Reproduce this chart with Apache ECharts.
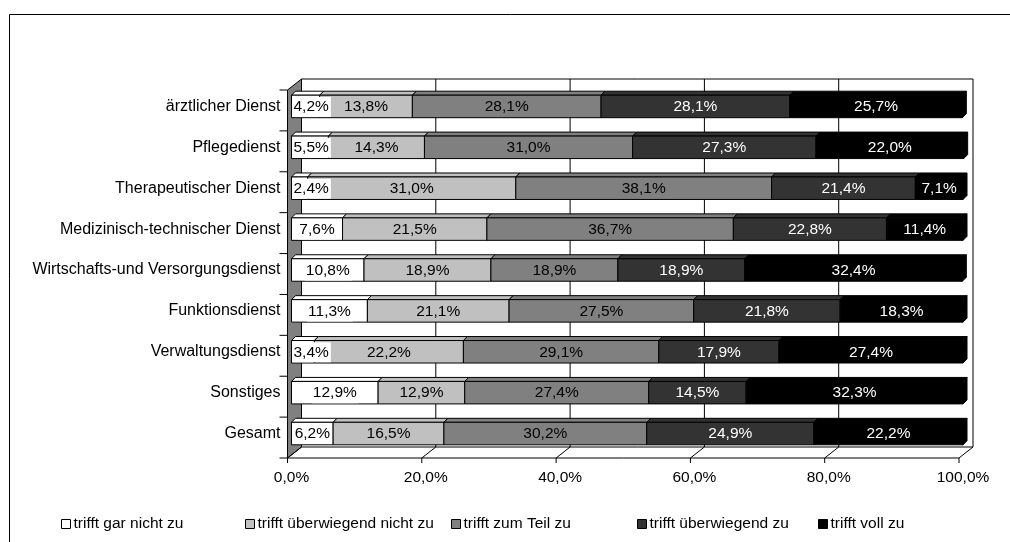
<!DOCTYPE html>
<html>
<head>
<meta charset="utf-8">
<script src="https://cdn.jsdelivr.net/npm/echarts@6/dist/echarts.min.js"></script>
<style>
html,body{margin:0;padding:0;background:#fff;}
#chart{width:1010px;height:542px;}
</style>
</head>
<body>
<div id="chart"></div>
<script>
// ---- data ----
const categories = [
  'ärztlicher Dienst',
  'Pflegedienst',
  'Therapeutischer Dienst',
  'Medizinisch-technischer Dienst',
  'Wirtschafts-und Versorgungsdienst',
  'Funktionsdienst',
  'Verwaltungsdienst',
  'Sonstiges',
  'Gesamt'
];
const seriesNames = [
  'trifft gar nicht zu',
  'trifft überwiegend nicht zu',
  'trifft zum Teil zu',
  'trifft überwiegend zu',
  'trifft voll zu'
];
const garNicht        = [4.2, 5.5, 2.4, 7.6, 10.8, 11.3, 3.4, 12.9, 6.2];
const ueberwNicht     = [13.8, 14.3, 31.0, 21.5, 18.9, 21.1, 22.2, 12.9, 16.5];
const zumTeil         = [28.1, 31.0, 38.1, 36.7, 18.9, 27.5, 29.1, 27.4, 30.2];
const ueberwZu        = [28.1, 27.3, 21.4, 22.8, 18.9, 21.8, 17.9, 14.5, 24.9];
const vollZu          = [25.7, 22.0, 7.1, 11.4, 32.4, 18.3, 27.4, 32.3, 22.2];
const xTickValues     = [0, 20, 40, 60, 80, 100];

const allValues = [garNicht, ueberwNicht, zumTeil, ueberwZu, vollZu];
const colors = ['#ffffff', '#c0c0c0', '#808080', '#333333', '#000000'];
const textColors = ['#000', '#000', '#000', '#fff', '#fff'];
const FONT = '"Liberation Sans", Arial, sans-serif';
const FS = 15.5;
const FS_CAT = 16;

const measureCtx = document.createElement('canvas').getContext('2d');
measureCtx.font = FS + 'px ' + FONT;
function fmt(v) { return v.toFixed(1).replace('.', ',') + '%'; }

// 3D offsets
const BDX = 4, BDY = -4;     // bar depth

function makeRender(si) {
  return function (params, api) {
    const s = api.value(0), e = api.value(1), ci = api.value(2), val = api.value(3);
    const p0 = api.coord([s, ci]);
    const p1 = api.coord([e, ci]);
    const band = api.size([0, 1])[1];
    const h = band * 0.55;
    const x0 = p0[0], x1 = p1[0];
    const yT = p0[1] - h / 2, yB = p0[1] + h / 2;
    const stroke = '#000';
    const children = [];
    children.push({
      type: 'polygon',
      shape: { points: [[x0, yT], [x1, yT], [x1 + BDX, yT + BDY], [x0 + BDX, yT + BDY]] },
      style: { fill: colors[si], stroke: stroke, lineWidth: 1 }
    });
    if (si === allValues.length - 1) {
      children.push({
        type: 'polygon',
        shape: { points: [[x1, yT], [x1 + BDX, yT + BDY], [x1 + BDX, yB + BDY], [x1, yB]] },
        style: { fill: colors[si], stroke: stroke, lineWidth: 1 }
      });
    }
    children.push({
      type: 'rect',
      shape: { x: x0, y: yT, width: x1 - x0, height: h },
      style: { fill: colors[si], stroke: stroke, lineWidth: 1 }
    });
    const txt = fmt(val);
    const tw = measureCtx.measureText(txt).width;
    let tx = (x0 + x1) / 2 - tw / 2;
    if (tx < x0 + 2) tx = x0 + 2;
    const ts = {
      text: txt, x: tx, y: p0[1] + 0.5, align: 'left', verticalAlign: 'middle',
      fill: textColors[si], font: FS + 'px ' + FONT
    };
    if (si === 0) { ts.backgroundColor = '#fff'; ts.padding = [2, 2, 2, 1]; ts.x = tx - 1; }
    children.push({ type: 'text', style: ts, z2: 10 });
    return { type: 'group', children: children };
  };
}

const series = allValues.map((vals, si) => {
  const data = vals.map((v, ci) => {
    let start = 0;
    for (let k = 0; k < si; k++) start += allValues[k][ci];
    return [start, start + v, ci, v];
  });
  return {
    type: 'custom',
    name: seriesNames[si],
    coordinateSystem: 'cartesian2d',
    encode: { x: [0, 1], y: 2 },
    itemStyle: { color: colors[si], borderColor: '#000', borderWidth: 1 },
    renderItem: makeRender(si),
    data: data,
    z: 5
  };
});

const legendLeft = [56, 240, 446, 632, 813];
const legends = seriesNames.map((n, i) => ({
  data: [n],
  left: legendLeft[i],
  top: 511,
  icon: 'rect',
  itemWidth: 9,
  itemHeight: 9,
  itemGap: 0,
  selectedMode: false,
  itemStyle: { borderColor: '#000', borderWidth: 1 },
  textStyle: { fontFamily: FONT, fontSize: FS, color: '#000', padding: [0, 0, 0, -2] }
}));

const chart = echarts.init(document.getElementById('chart'), null, { renderer: 'canvas' });
chart.setOption({
  animation: false,
  backgroundColor: '#fff',
  grid: { left: 291.5, right: 47, top: 86, bottom: 88, containLabel: false },
  xAxis: {
    type: 'value', min: 0, max: 100, interval: 20,
    axisLine: { show: false }, axisTick: { show: false }, splitLine: { show: false },
    axisLabel: {
      margin: 16, color: '#000', fontFamily: FONT, fontSize: FS,
      formatter: v => xTickValues.indexOf(v) >= 0 ? fmt(v) : ''
    }
  },
  yAxis: {
    type: 'category', data: categories, inverse: true,
    axisLine: { show: false }, axisTick: { show: false }, splitLine: { show: false },
    axisLabel: { margin: 11, color: '#000', fontFamily: FONT, fontSize: FS_CAT, padding: [7, 0, 0, 0] }
  },
  legend: legends,
  series: series
});

// ---- walls, floor and grid lines via axis scales ----
const FDX = -4, FDY = 4;    // front plane offset
const WDX = 10, WDY = -7;   // back plane offset
const px = v => chart.convertToPixel({ xAxisIndex: 0 }, v);
const yc0 = chart.convertToPixel({ yAxisIndex: 0 }, 0);
const bandH = chart.convertToPixel({ yAxisIndex: 0 }, 1) - yc0;
const gridTop = yc0 - bandH / 2;
const gridBottom = gridTop + bandH * categories.length;
const x0 = px(0), x100 = px(100);
const g = [];
const line = (a, b, w) => ({ type: 'line', shape: { x1: a[0], y1: a[1], x2: b[0], y2: b[1] }, style: { stroke: '#000', lineWidth: w || 1 }, z: 1, silent: true });
// outer frame
g.push({ type: 'rect', shape: { x: 9.5, y: 14.5, width: 1200, height: 800 }, style: { fill: 'none', stroke: '#000', lineWidth: 1 }, z: 0 });
// left wall
g.push({ type: 'polygon', shape: { points: [
  [x0 + FDX, gridTop + FDY], [x0 + FDX, gridBottom + FDY],
  [x0 + WDX, gridBottom + WDY], [x0 + WDX, gridTop + WDY]] },
  style: { fill: '#808080', stroke: '#000', lineWidth: 1 }, z: 1 });
// back wall top and right edges
g.push(line([x0 + WDX, gridTop + WDY], [x100 + WDX, gridTop + WDY]));
g.push(line([x100 + WDX, gridTop + WDY], [x100 + WDX, gridBottom + WDY]));
// back wall grid lines & floor
xTickValues.forEach(v => {
  const xv = px(v);
  if (v > 0 && v < 100) g.push(line([xv + WDX, gridTop + WDY], [xv + WDX, gridBottom + WDY]));
  g.push(line([xv + FDX, gridBottom + FDY], [xv + WDX, gridBottom + WDY]));
  g.push(line([xv + FDX, gridBottom + FDY], [xv + FDX, gridBottom + FDY + 5]));
});
g.push(line([x0 + WDX, gridBottom + WDY], [x100 + WDX, gridBottom + WDY]));
g.push(line([x0 + FDX, gridBottom + FDY], [x100 + FDX, gridBottom + FDY]));
// category ticks
for (let k = 0; k <= categories.length; k++) {
  const y = gridTop + k * bandH + FDY;
  g.push(line([x0 + FDX - 8, y], [x0 + FDX, y]));
}
chart.setOption({ graphic: g });
</script>
</body>
</html>
